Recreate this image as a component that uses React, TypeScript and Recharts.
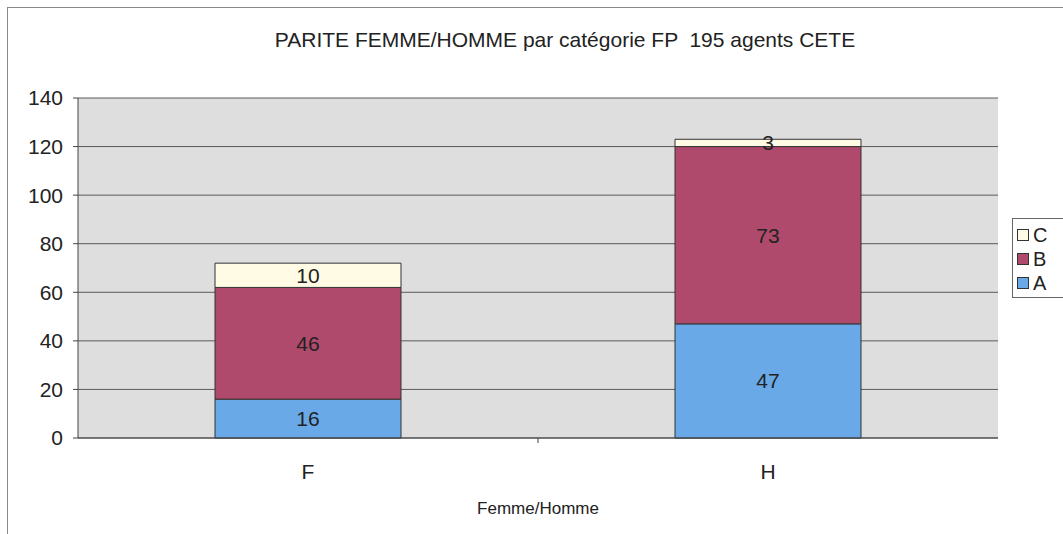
import { BarChart, Bar, XAxis, YAxis, CartesianGrid, LabelList } from "recharts";

const categories = ["F", "H"];
const seriesA = [16, 47];
const seriesB = [46, 73];
const seriesC = [10, 3];
const yTicks = [0, 20, 40, 60, 80, 100, 120, 140];

const series = [
  { key: "A", values: seriesA, color: "#6aa9e8" },
  { key: "B", values: seriesB, color: "#b04a6c" },
  { key: "C", values: seriesC, color: "#fffbe4" },
];

const data = categories.map((name, i) => ({
  name,
  A: seriesA[i],
  B: seriesB[i],
  C: seriesC[i],
}));

const font = "'Liberation Sans', Arial, sans-serif";

// tick label + petites graduations entre catégories (style Excel)
const CategoryTick = (props: any) => {
  const { x, y, payload, index } = props;
  const off = payload.offset || 0;
  return (
    <g>
      {index > 0 && (
        <line x1={x - off} x2={x - off} y1={y - 7} y2={y - 2} stroke="#444" />
      )}
      <text
        x={x}
        y={y + 34}
        textAnchor="middle"
        fill="#222"
        fontSize={21}
        fontFamily={font}
      >
        {payload.value}
      </text>
    </g>
  );
};

export default function App() {
  return (
    <div
      style={{
        position: "absolute",
        left: 0,
        top: 0,
        width: 1063,
        height: 534,
        background: "#fff",
        overflow: "hidden",
        fontFamily: font,
      }}
    >
      {/* cadre */}
      <div
        style={{
          position: "absolute",
          left: 7,
          top: 7,
          width: 1100,
          height: 600,
          border: "1px solid #8a8a8a",
        }}
      />
      <div
        style={{
          position: "absolute",
          top: 28,
          left: 0,
          width: 1130,
          textAlign: "center",
          fontSize: 21,
          color: "#222",
          whiteSpace: "pre",
        }}
      >
        {"PARITE FEMME/HOMME par catégorie FP  195 agents CETE"}
      </div>

      <div style={{ position: "absolute", left: 0, top: 0 }}>
        <BarChart
          width={1063}
          height={534}
          data={data}
          margin={{ top: 98, right: 65, bottom: 66, left: 18 }}
        >
          <CartesianGrid
            vertical={false}
            stroke="#5a5a5a"
            fill="#dedede"
            fillOpacity={1}
          />
          <XAxis
            dataKey="name"
            height={30}
            axisLine={{ stroke: "#444" }}
            tickLine={false}
            tickSize={5}
            tickMargin={2}
            tick={<CategoryTick />}
          />
          <YAxis
            width={60}
            domain={[0, 140]}
            ticks={yTicks}
            axisLine={{ stroke: "#444" }}
            tickLine={{ stroke: "#444" }}
            tickSize={5}
            tickMargin={10}
            tick={{ fill: "#222", fontSize: 21, fontFamily: font }}
          />
          {series.map((s) => (
            <Bar
              key={s.key}
              dataKey={s.key}
              stackId="s"
              fill={s.color}
              stroke="#333"
              strokeWidth={1}
              barSize={186}
              isAnimationActive={false}
            >
              <LabelList
                dataKey={s.key}
                position="center"
                fill="#222"
                fontSize={21}
                fontFamily={font}
              />
            </Bar>
          ))}
        </BarChart>
      </div>

      <div
        style={{
          position: "absolute",
          top: 499,
          left: 438,
          width: 200,
          textAlign: "center",
          fontSize: 17,
          color: "#222",
        }}
      >
        Femme/Homme
      </div>

      {/* légende */}
      <div
        style={{
          position: "absolute",
          left: 1012,
          top: 218,
          width: 80,
          border: "1px solid #666",
          background: "#fff",
          padding: "4px 0 2px 4px",
        }}
      >
        {[...series].reverse().map((s) => (
          <div
            key={s.key}
            style={{ display: "flex", alignItems: "center", height: 24, fontSize: 20, color: "#222" }}
          >
            <span
              style={{
                display: "inline-block",
                width: 10,
                height: 10,
                background: s.color,
                border: "1px solid #333",
                marginRight: 4,
              }}
            />
            {s.key}
          </div>
        ))}
      </div>
    </div>
  );
}
